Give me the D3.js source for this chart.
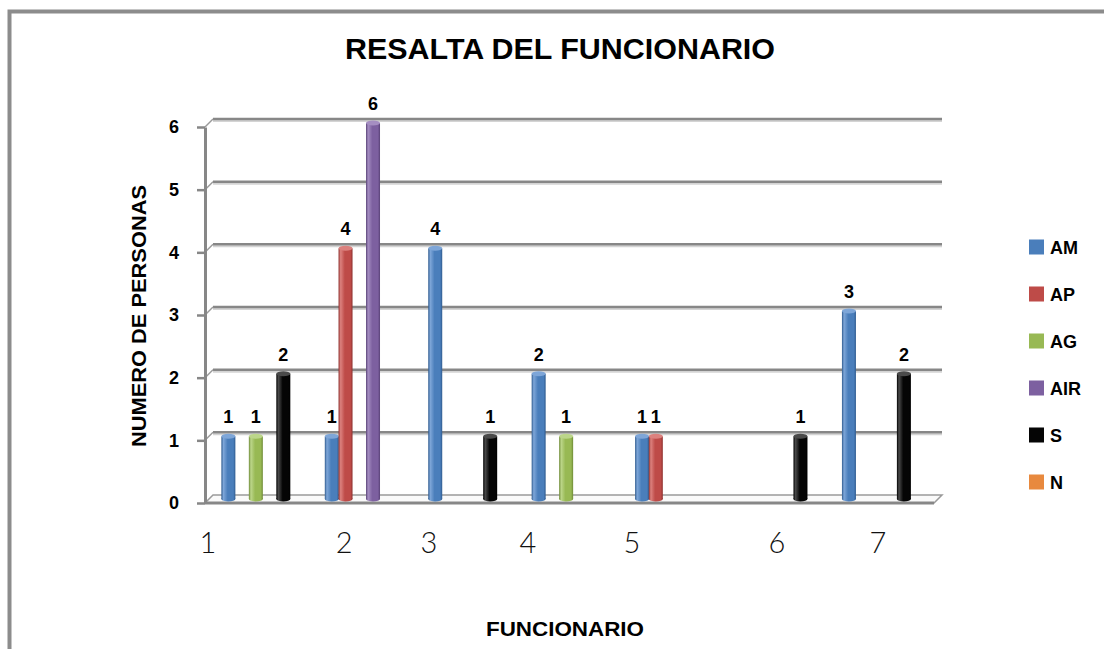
<!DOCTYPE html>
<html>
<head>
<meta charset="utf-8">
<script src="https://cdn.jsdelivr.net/npm/d3@7"></script>
<style>
  html, body { margin: 0; padding: 0; background: #fff; }
  svg { display: block; }
</style>
</head>
<body>
<svg id="chart" width="1104" height="649"></svg>
<script>
// Funcionario categories and the count of people per response
const categories = ["1", "2", "3", "4", "5", "6", "7"];
const seriesNames = ["AM", "AP", "AG", "AIR", "S", "N"];
const AM  = [1, 1, 4, 2, 1, 0, 3];
const AP  = [0, 4, 0, 0, 1, 0, 0];
const AG  = [1, 0, 0, 1, 0, 0, 0];
const AIR = [0, 6, 0, 0, 0, 0, 0];
const S   = [2, 0, 1, 0, 0, 1, 2];
const N   = [0, 0, 0, 0, 0, 0, 0];
const yTicks = [0, 1, 2, 3, 4, 5, 6];
const xLabels = ["1", "2", "3", "4", "5", "6", "7"];

const seriesValues = { AM, AP, AG, AIR, S, N };
const colors = {
  AM:  { base: "#4a7ebb", light: "#7ea6d8", dark: "#2f5b8f" },
  AP:  { base: "#be4b48", light: "#dc817e", dark: "#8f3230" },
  AG:  { base: "#98b954", light: "#bcd68a", dark: "#6f8b37" },
  AIR: { base: "#7d60a0", light: "#a58ec2", dark: "#594277" },
  S:   { base: "#050505", light: "#4a4a4a", dark: "#000000" },
  N:   { base: "#e8893e", light: "#f5b27a", dark: "#b9662a" }
};

const svg = d3.select("#chart");
const boldFont = "'Liberation Sans', Arial, sans-serif";

// outer chart frame (runs off the right and bottom edges)
svg.append("rect")
  .attr("x", 9.5).attr("y", 11.5)
  .attr("width", 1300).attr("height", 1000)
  .attr("fill", "none").attr("stroke", "#8c8c8c").attr("stroke-width", 4);

// 3D depth offset between the front axis plane and the back wall
const depth = 8;
const yFront = d3.scaleLinear().domain([0, 6]).range([503, 127]);
const yBack  = d3.scaleLinear().domain([0, 6]).range([495, 119]);
const yBar   = d3.scaleLinear().domain([0, 6]).range([499, 123]);
const xFront = [205, 934];

const x0 = d3.scaleBand().domain(categories).range([211, 935]);
const x1 = d3.scaleBand().domain(seriesNames).range([10.5, x0.bandwidth() - 10.5]);

// gridlines on the back wall + diagonal joins to the front axis
const grid = svg.append("g");
yTicks.forEach(t => {
  if (t === 0) return;
  grid.append("line")
    .attr("x1", xFront[0] + depth).attr("x2", xFront[1] + depth)
    .attr("y1", yBack(t) + 2).attr("y2", yBack(t) + 2)
    .attr("stroke", "#d4d4d4").attr("stroke-width", 2);
  grid.append("line")
    .attr("x1", xFront[0] + depth).attr("x2", xFront[1] + depth)
    .attr("y1", yBack(t)).attr("y2", yBack(t))
    .attr("stroke", "#878787").attr("stroke-width", 2.5);
  grid.append("line")
    .attr("x1", xFront[0]).attr("x2", xFront[0] + depth)
    .attr("y1", yFront(t)).attr("y2", yBack(t))
    .attr("stroke", "#9a9a9a").attr("stroke-width", 1.5);
});

// floor of the plot
const floor = svg.append("g");
floor.append("path")
  .attr("d", `M${xFront[0]},${yFront(0)} L${xFront[0] + depth},${yBack(0)} L${xFront[1] + depth},${yBack(0)} L${xFront[1]},${yFront(0)} Z`)
  .attr("fill", "#fafafa").attr("stroke", "#9a9a9a").attr("stroke-width", 1.5);
floor.append("line")
  .attr("x1", xFront[0]).attr("x2", xFront[1])
  .attr("y1", yFront(0)).attr("y2", yFront(0))
  .attr("stroke", "#878787").attr("stroke-width", 3);

// cylinder-style shading for each series
const defs = svg.append("defs");
seriesNames.forEach(s => {
  const g = defs.append("linearGradient").attr("id", "g-" + s)
    .attr("x1", "0%").attr("x2", "100%").attr("y1", "0%").attr("y2", "0%");
  g.append("stop").attr("offset", "0%").attr("stop-color", colors[s].dark);
  g.append("stop").attr("offset", "15%").attr("stop-color", colors[s].light);
  g.append("stop").attr("offset", "45%").attr("stop-color", colors[s].base);
  g.append("stop").attr("offset", "85%").attr("stop-color", colors[s].base);
  g.append("stop").attr("offset", "100%").attr("stop-color", colors[s].dark);
});

// bars
const barW = 14;
const bars = svg.append("g");
const labels = svg.append("g");
categories.forEach((c, i) => {
  seriesNames.forEach(s => {
    const v = seriesValues[s][i];
    if (v <= 0) return;
    const cx = x0(c) + x1(s) + x1.bandwidth() / 2;
    const top = yBar(v), bottom = yBar(0);
    const g = bars.append("g");
    g.append("ellipse").attr("cx", cx).attr("cy", bottom)
      .attr("rx", barW / 2).attr("ry", 2.5).attr("fill", `url(#g-${s})`);
    g.append("rect").attr("x", cx - barW / 2).attr("y", top)
      .attr("width", barW).attr("height", bottom - top)
      .attr("fill", `url(#g-${s})`);
    g.append("ellipse").attr("cx", cx).attr("cy", top)
      .attr("rx", barW / 2).attr("ry", 2.5).attr("fill", colors[s].light);
    labels.append("text")
      .attr("x", cx).attr("y", top - 13)
      .attr("text-anchor", "middle")
      .attr("font-family", boldFont).attr("font-weight", "bold")
      .attr("font-size", 18).attr("fill", "#000")
      .text(v);
  });
});

// value axis (front plane)
const yAxis = d3.axisLeft(yFront).tickValues(yTicks).tickSize(8).tickSizeOuter(0).tickPadding(18)
  .tickFormat(d3.format("d"));
const ya = svg.append("g").attr("transform", `translate(${xFront[0]},0)`).call(yAxis);
ya.select(".domain").attr("stroke", "#878787").attr("stroke-width", 3);
ya.selectAll(".tick line").attr("stroke", "#878787").attr("stroke-width", 2.5);
ya.selectAll(".tick text")
  .attr("font-family", boldFont).attr("font-weight", "bold")
  .attr("font-size", 18).attr("fill", "#000");

// category labels
const labelNudge = [-54.7, -22.1, -40.6, -45, -44.4, -2.9, -5.3];
svg.append("g").selectAll("text").data(xLabels).join("text")
  .attr("x", (d, i) => x0(categories[i]) + x0.bandwidth() / 2 + labelNudge[i])
  .attr("y", 553)
  .attr("text-anchor", "middle")
  .attr("font-family", "Lato, 'Open Sans', sans-serif").attr("font-weight", 300)
  .attr("font-size", 29).attr("fill", "#111")
  .text(d => d);

// titles
svg.append("text")
  .attr("x", 560).attr("y", 59)
  .attr("text-anchor", "middle")
  .attr("font-family", boldFont).attr("font-weight", "bold")
  .attr("font-size", 29).attr("textLength", 430).attr("lengthAdjust", "spacingAndGlyphs")
  .text("RESALTA DEL FUNCIONARIO");

svg.append("text")
  .attr("x", 565).attr("y", 636)
  .attr("text-anchor", "middle")
  .attr("font-family", boldFont).attr("font-weight", "bold")
  .attr("font-size", 21).attr("textLength", 158).attr("lengthAdjust", "spacingAndGlyphs")
  .text("FUNCIONARIO");

svg.append("text")
  .attr("transform", "translate(146,316) rotate(-90)")
  .attr("text-anchor", "middle")
  .attr("font-family", boldFont).attr("font-weight", "bold")
  .attr("font-size", 21).attr("textLength", 262).attr("lengthAdjust", "spacingAndGlyphs")
  .text("NUMERO DE PERSONAS");

// legend
const legend = svg.append("g").selectAll("g").data(seriesNames).join("g")
  .attr("transform", (d, i) => `translate(1029,${247 + i * 47})`);
legend.append("rect").attr("x", 0).attr("y", -7.5).attr("width", 15).attr("height", 15)
  .attr("fill", d => colors[d].base);
legend.append("text").attr("x", 21).attr("y", 6.5)
  .attr("font-family", boldFont).attr("font-weight", "bold")
  .attr("font-size", 18).attr("fill", "#000")
  .text(d => d);
</script>
</body>
</html>
